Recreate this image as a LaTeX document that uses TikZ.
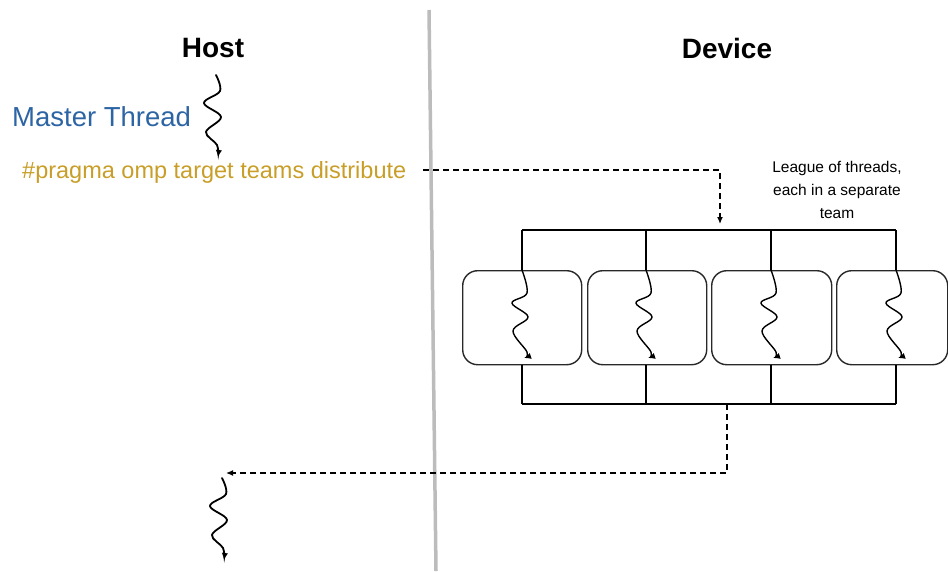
\documentclass[tikz,border=0pt]{standalone}
\usepackage{fontspec}
\setmainfont{Liberation Sans}
\usetikzlibrary{arrows.meta}
\definecolor{threadblue}{RGB}{44,100,164}
\definecolor{pragmagold}{RGB}{200,158,40}
\definecolor{divider}{RGB}{188,188,188}
\definecolor{boxline}{RGB}{40,40,40}
\tikzset{
  heading/.style={font=\bfseries\fontsize{28}{32}\selectfont, inner sep=0pt},
  teambox/.style={draw=boxline, line width=1.4pt, rounded corners=15pt, minimum width=#1, minimum height=94pt, inner sep=0pt},
  bus/.style={draw=black, line width=1.3pt},
  flow/.style={draw=black, line width=1.3pt, dash pattern=on 6pt off 4pt, -{Latex[length=7pt,width=6pt]}},
  wavy/.style={draw=black, line width=1.8pt, line cap=round, -{Latex[length=7pt,width=6.5pt]}},
  pics/thread/.style={code={
    \draw[wavy] plot[smooth, tension=0.6] coordinates {(0,0) (4,16) (-12,28) (5,42) (-10,57) (1,70) (2,82)};
  }},
  pics/teamthread/.style={code={
    \draw[wavy, line width=1.4pt] plot[smooth, tension=0.6] coordinates {(0,0) (5,23) (-10,33) (6,47) (-9,61) (5,82) (2,88)};
  }}
}
\begin{document}
\begin{tikzpicture}[x=1pt, y=-1pt]
  \useasboundingbox (0,0) rectangle (948,571);

  % host / device divider
  \draw[divider, line width=3.5pt] (429,10) -- (436,571);

  % column headings
  \node[heading] (host) at (213,48) {Host};
  \node[heading] (device) at (727,48) {Device};

  % master thread on the host
  \node[anchor=west, inner sep=0pt, text=threadblue, font=\fontsize{27.5}{32}\selectfont] (master) at (12,117) {Master Thread};
  \pic at (216,75) {thread};
  \node[anchor=west, inner sep=0pt, text=pragmagold, font=\fontsize{23.5}{28}\selectfont] (pragma) at (22,172) {\#pragma omp target teams distribute};

  % league description
  \node[align=center, inner sep=0pt, font=\fontsize{15.5}{23}\selectfont] (league) at (837,190) {League of threads,\\each in a separate\\team};

  % teams
  \node[teambox=119pt, anchor=north west] (t1) at (462,270) {};
  \node[teambox=119pt, anchor=north west] (t2) at (587,270) {};
  \node[teambox=120pt, anchor=north west] (t3) at (711,270) {};
  \node[teambox=111pt, anchor=north west] (t4) at (836,270) {};

  % fork bus
  \coordinate (f1) at (522,230);
  \coordinate (f2) at (646,230);
  \coordinate (f3) at (771,230);
  \coordinate (f4) at (896,230);
  \draw[bus] (f1) -- (f4);
  \draw[bus] (f1) -- (f1 |- t1.north);
  \draw[bus] (f2) -- (f2 |- t2.north);
  \draw[bus] (f3) -- (f3 |- t3.north);
  \draw[bus] (f4) -- (f4 |- t4.north);

  % join bus
  \coordinate (j1) at (522,404);
  \coordinate (j2) at (646,404);
  \coordinate (j3) at (771,404);
  \coordinate (j4) at (896,404);
  \draw[bus] (j1) -- (j4);
  \draw[bus] (j1) -- (j1 |- t1.south);
  \draw[bus] (j2) -- (j2 |- t2.south);
  \draw[bus] (j3) -- (j3 |- t3.south);
  \draw[bus] (j4) -- (j4 |- t4.south);

  % team threads
  \pic at (522,270) {teamthread};
  \pic at (646,270) {teamthread};
  \pic at (771,270) {teamthread};
  \pic at (896,270) {teamthread};

  % offload to the device
  \coordinate (offstart) at (423,170);
  \coordinate (offturn) at (720,170);
  \coordinate (offend) at (720,224);
  \draw[flow] (offstart) -- (offturn) -- (offend);

  % return to the host
  \coordinate (retstart) at (727,404);
  \coordinate (retturn) at (727,473);
  \coordinate (retend) at (226,473);
  \draw[flow] (retstart) -- (retturn) -- (retend);

  % master thread continues
  \pic at (222,478) {thread};
\end{tikzpicture}
\end{document}
